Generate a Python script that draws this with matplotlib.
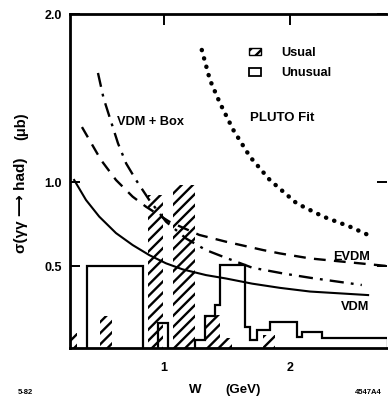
import matplotlib
matplotlib.use("Agg")
import matplotlib.pyplot as plt
from matplotlib.patches import Patch
import numpy as np

plt.rcParams['font.family'] = ['Liberation Sans', 'DejaVu Sans']
plt.rcParams['font.weight'] = 'bold'
plt.rcParams['hatch.linewidth'] = 1.7

# ---- data (W in GeV, sigma in microbarn) ----
pluto_w = [1.30, 1.365, 1.444, 1.55, 1.683, 1.84, 2.053, 2.264, 2.476, 2.62]
pluto_s = [1.786, 1.607, 1.47, 1.31, 1.15, 1.012, 0.873, 0.794, 0.734, 0.685]

evdm_w = [0.349, 0.50, 0.619, 0.751, 0.857, 1.042, 1.28, 1.49, 1.786, 1.92, 2.16, 2.77]
evdm_s = [1.327, 1.131, 1.012, 0.913, 0.853, 0.764, 0.685, 0.645, 0.595, 0.575, 0.545, 0.50]

vdmbox_w = [0.476, 0.52, 0.571, 0.635, 0.70, 0.778, 0.883, 1.016, 1.175, 1.333, 1.466,
            1.70, 1.95, 2.16, 2.57]
vdmbox_s = [1.649, 1.50, 1.38, 1.23, 1.11, 1.012, 0.893, 0.764, 0.664, 0.595, 0.556,
            0.49, 0.455, 0.43, 0.387]

vdm_w = [0.287, 0.381, 0.486, 0.619, 0.751, 0.883, 1.016, 1.148, 1.333, 1.49, 1.70,
         1.92, 2.16, 2.62]
vdm_s = [1.012, 0.893, 0.794, 0.696, 0.625, 0.565, 0.516, 0.48, 0.446, 0.426, 0.395,
         0.37, 0.348, 0.327]

# Usual (hatched) bins: left edge, right edge, height
usual_lo = [0.254, 0.492, 0.873, 1.071, 1.325, 1.444, 1.786]
usual_hi = [0.310, 0.587, 0.992, 1.246, 1.444, 1.540, 1.880]
usual_h = [0.10, 0.20, 0.92, 0.98, 0.21, 0.07, 0.09]

# Unusual (open) isolated bins
unus_lo = [0.389, 0.952]
unus_hi = [0.833, 1.030]
unus_h = [0.50, 0.16]

# Unusual contiguous step histogram
step_edges = [1.246, 1.325, 1.405, 1.444, 1.643, 1.683, 1.738, 1.84, 2.056, 2.095, 2.254, 2.78]
step_vals = [0.06, 0.20, 0.27, 0.505, 0.137, 0.06, 0.12, 0.167, 0.08, 0.107, 0.07]

fig = plt.figure(figsize=(3.88, 3.96), dpi=100)
ax = fig.add_axes([70/388, 48/396, 317/388, 334/396])
ax.set_xlim(0.254, 2.77)
ax.set_ylim(0.012, 2.0)

# hatched bars
ax.bar(usual_lo, usual_h, width=np.subtract(usual_hi, usual_lo),
       align='edge', facecolor='none', edgecolor='black', hatch='///',
       linewidth=0, zorder=3)
# open bars
ax.bar(unus_lo, unus_h, width=np.subtract(unus_hi, unus_lo), align='edge',
       fill=False, edgecolor='black', linewidth=1.6, zorder=4)
ax.stairs(step_vals, step_edges, color='black', linewidth=1.6, zorder=4)

# curves
ax.plot(pluto_w, pluto_s, color='black', linewidth=3.2,
        linestyle=(0, (0.05, 1.9)), dash_capstyle='round', zorder=2)
ax.plot(evdm_w, evdm_s, color='black', linewidth=1.7,
        linestyle=(0, (5, 3.5)), zorder=2)
ax.plot(vdmbox_w, vdmbox_s, color='black', linewidth=1.7,
        linestyle=(0, (6, 3, 1.2, 3)), zorder=2)
ax.plot(vdm_w, vdm_s, color='black', linewidth=1.5, zorder=2)

# curve labels
ax.text(0.89, 1.36, 'VDM + Box', fontsize=9.2, ha='center', va='center')
ax.text(1.94, 1.38, 'PLUTO Fit', fontsize=9.5, ha='center', va='center')
ax.text(2.49, 0.555, 'EVDM', fontsize=9.2, ha='center', va='center')
ax.text(2.52, 0.256, 'VDM', fontsize=9.2, ha='center', va='center')

# legend
handles = [Patch(facecolor='white', edgecolor='black', hatch='///', label='Usual'),
           Patch(facecolor='white', edgecolor='black', linewidth=1.3, label='Unusual')]
ax.legend(handles=handles, loc='upper left', bbox_to_anchor=(0.545, 0.92),
          frameon=False, fontsize=9.2, handlelength=0.9, handleheight=0.55,
          handletextpad=1.6, labelspacing=0.65, borderpad=0)

# axes styling
for s in ['left', 'top', 'bottom']:
    ax.spines[s].set_linewidth(2.0)
ax.spines['right'].set_visible(False)

ax.set_yticks([0.5, 1.0, 2.0])
ax.set_yticklabels(['0.5', '1.0', '2.0'])
ax.set_xticks([1, 2])
ax.set_xticklabels(['1', '2'])
ax.tick_params(axis='y', direction='in', length=7, width=1.4, pad=6,
               labelsize=9, right=True)
ax.tick_params(axis='x', direction='in', length=8, width=1.4, pad=10,
               labelsize=9, top=True, bottom=False)

fig.text(21/388, 1 - 205/396, 'σ(γγ ⟶ had)', rotation=90,
         fontsize=11, ha='center', va='center')
fig.text(21/388, 1 - 126/396, '(μb)', rotation=90,
         fontsize=10.5, ha='center', va='center')
fig.text(195/388, 1 - 390/396, 'W', fontsize=9.5, ha='center', va='center')
fig.text(243/388, 1 - 390/396, '(GeV)', fontsize=9.5, ha='center', va='center')
fig.text(25/388, 1 - 392/396, '5-82', fontsize=5.5, ha='center', va='center')
fig.text(368/388, 1 - 392/396, '4547A4', fontsize=5.5, ha='center', va='center')

fig.savefig('out.png', dpi=100)
